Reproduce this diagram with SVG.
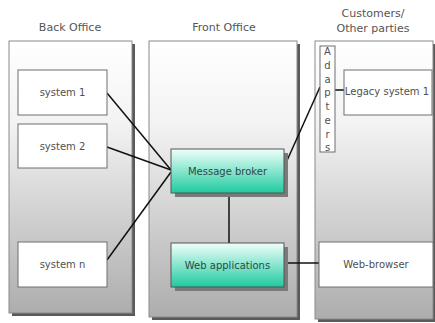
<svg xmlns="http://www.w3.org/2000/svg" width="435" height="323" viewBox="0 0 435 323">
<defs>
<linearGradient id="pg" x1="0" y1="0" x2="0" y2="1">
<stop offset="0" stop-color="#ffffff"/>
<stop offset="0.3" stop-color="#f3f3f3"/>
<stop offset="1" stop-color="#adadad"/>
</linearGradient>
<linearGradient id="ng" x1="0" y1="0" x2="0" y2="1">
<stop offset="0" stop-color="#f0fffb"/>
<stop offset="1" stop-color="#1ecba0"/>
</linearGradient>
</defs>
<style>
.panel{fill:url(#pg);stroke:#8a8a8a;stroke-width:1}
.pshadow{fill:#5a5a5a}
.box{fill:#ffffff;stroke:#6e6e6e;stroke-width:1}
.gbox{fill:url(#ng);stroke:#555;stroke-width:1}
.nshadow{fill:#7a7a7a}
.hdr{font-family:"DejaVu Sans",Verdana,sans-serif;font-size:11px;fill:#555;text-anchor:middle}
.lbl{font-family:"DejaVu Sans",Verdana,sans-serif;font-size:10px;fill:#505050;text-anchor:middle}
.glbl{font-family:"DejaVu Sans",Verdana,sans-serif;font-size:10px;fill:#2c4a44;text-anchor:middle}
.conn{stroke:#111;stroke-width:1.5;fill:none}
</style>
<g id="back-office">
<rect class="pshadow" x="12" y="44" width="123" height="272"/>
<rect class="panel" x="9" y="41" width="123" height="272"/>
<text class="hdr" x="70" y="31">Back Office</text>
</g>
<g id="front-office">
<rect class="pshadow" x="152" y="44" width="148" height="276"/>
<rect class="panel" x="149" y="41" width="148" height="276"/>
<text class="hdr" x="224" y="31">Front Office</text>
</g>
<g id="customers">
<rect class="pshadow" x="318" y="44" width="118" height="278"/>
<rect class="panel" x="315" y="41" width="118" height="278"/>
<text class="hdr" x="373" y="17">Customers/</text>
<text class="hdr" x="373" y="32">Other parties</text>
</g>
<g id="connectors">
<line class="conn" x1="107" y1="93" x2="171" y2="170"/>
<line class="conn" x1="107" y1="147" x2="171" y2="170"/>
<line class="conn" x1="107" y1="260" x2="171" y2="172"/>
<line class="conn" x1="285" y1="165" x2="320" y2="87"/>
<line class="conn" x1="335" y1="90" x2="344" y2="90"/>
<line class="conn" x1="229" y1="193" x2="229" y2="243"/>
<line class="conn" x1="285" y1="263" x2="319" y2="263"/>
</g>
<g id="system-1">
<rect class="box" x="18" y="70" width="89" height="45"/>
<text class="lbl" x="62.5" y="96">system 1</text>
</g>
<g id="system-2">
<rect class="box" x="18" y="124" width="89" height="44"/>
<text class="lbl" x="62.5" y="150">system 2</text>
</g>
<g id="system-n">
<rect class="box" x="18" y="242" width="89" height="45"/>
<text class="lbl" x="62.5" y="268">system n</text>
</g>
<g id="message-broker">
<rect class="nshadow" x="175" y="153" width="113" height="44"/>
<rect class="gbox" x="171" y="149" width="113" height="44"/>
<text class="glbl" x="227.5" y="175">Message broker</text>
</g>
<g id="web-applications">
<rect class="nshadow" x="175" y="247" width="113" height="44"/>
<rect class="gbox" x="171" y="243" width="113" height="44"/>
<text class="glbl" x="227.5" y="269">Web applications</text>
</g>
<g id="adapters">
<rect class="box" x="320" y="46" width="15" height="106"/>
<text class="lbl" x="327.5" y="55">A</text>
<text class="lbl" x="327.5" y="69">d</text>
<text class="lbl" x="327.5" y="83">a</text>
<text class="lbl" x="327.5" y="96">p</text>
<text class="lbl" x="327.5" y="110">t</text>
<text class="lbl" x="327.5" y="124">e</text>
<text class="lbl" x="327.5" y="138">r</text>
<text class="lbl" x="327.5" y="151">s</text>
</g>
<g id="legacy-system-1">
<rect class="box" x="344" y="70" width="88" height="45"/>
<text class="lbl" x="387" y="95" font-size="9.6">Legacy system 1</text>
</g>
<g id="web-browser">
<rect class="box" x="319" y="242" width="114" height="45"/>
<text class="lbl" x="376" y="268">Web-browser</text>
</g>
</svg>
